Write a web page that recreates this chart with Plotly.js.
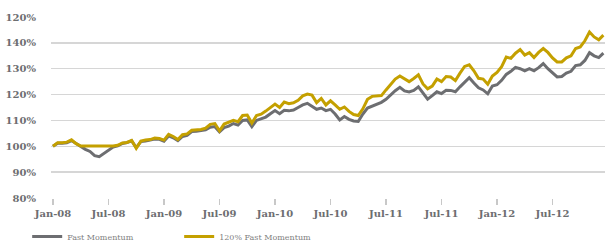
<!DOCTYPE html>
<html>
<head>
<meta charset="utf-8">
<script src="https://cdn.plot.ly/plotly-3.0.1.min.js"></script>
<style>html,body{margin:0;padding:0;background:#fff;}#chart{width:605px;height:251px;}</style>
</head>
<body>
<div id="chart"></div>
<script>
// Semi-monthly observations, Jan-08 to Dec-12 (index 0..119)
const fastMomentum = [
100.0,101.2,101.2,101.4,102.2,101.0,100.0,98.8,98.0,96.4,
96.0,97.3,98.5,99.7,100.2,101.1,101.4,102.1,99.5,101.8,
102.0,102.3,102.8,102.7,102.0,104.0,103.3,102.2,103.8,104.2,
105.7,105.8,106.0,106.4,107.4,107.6,105.6,107.2,107.8,108.8,
108.2,110.0,110.2,107.6,110.0,110.8,111.3,112.6,113.8,112.6,
113.9,113.7,114.0,115.0,116.0,116.6,115.6,114.3,114.8,113.8,
114.3,112.5,110.2,111.5,110.4,109.8,109.6,112.5,114.8,115.6,
116.1,117.0,118.2,120.0,121.5,122.8,121.4,121.0,121.6,123.0,
120.6,118.2,119.6,121.1,120.4,121.7,121.6,121.1,123.0,124.8,
126.5,124.5,122.6,121.8,120.3,123.3,123.8,125.5,127.8,129.0,
130.5,130.0,129.2,130.0,129.2,130.4,132.0,130.0,128.3,126.8,
127.0,128.3,129.0,131.2,131.5,133.2,136.2,135.0,134.3,136.0
];
const fastMomentum120 = [
100.0,101.4,101.4,101.6,102.5,101.0,100.1,100.1,100.1,100.1,
100.1,100.1,100.1,100.1,100.4,101.3,101.5,102.3,99.2,102.0,
102.4,102.6,103.2,103.0,102.4,104.6,103.8,102.6,104.5,104.8,
106.2,106.3,106.5,107.0,108.5,108.8,106.0,108.6,109.2,110.0,
109.5,111.9,112.1,109.0,111.9,112.4,113.6,114.9,116.3,115.0,
117.1,116.5,116.8,117.8,119.5,120.2,119.8,116.9,118.5,116.0,
117.6,116.0,114.3,115.2,113.5,112.3,111.9,114.5,118.2,119.3,
119.4,119.6,121.8,124.0,126.0,127.2,126.1,125.0,126.2,127.6,
124.1,122.2,123.3,126.0,125.0,127.0,126.8,125.4,128.3,130.9,
131.5,129.2,126.3,126.0,124.0,127.2,128.6,130.8,134.5,134.0,
136.0,137.4,135.3,136.2,134.3,136.3,137.8,136.3,134.2,132.6,
132.6,134.2,135.0,137.8,138.4,140.8,144.2,142.3,141.2,143.0
];
const xTickVals = [0,12,24,36,48,60,72,84,96,108];
const xTickText = ['Jan-08','Jul-08','Jan-09','Jul-09','Jan-10','Jul-10','Jul-11','Jul-11','Jan-12','Jul-12'];
const yTickVals = [80,90,100,110,120,130,140,150];
const yTickText = ['80%','90%','100%','110%','120%','130%','140%','120%'];
const seriesNames = ['Fast Momentum','120% Fast Momentum'];

const xIdx = fastMomentum.map((_, i) => i);
const gray = '#6d6e71';
const gold = '#c4a000';

const traces = [
  {x: xIdx, y: fastMomentum, name: seriesNames[0], type: 'scatter', mode: 'lines',
   line: {color: gray, width: 3}},
  {x: xIdx, y: fastMomentum120, name: seriesNames[1], type: 'scatter', mode: 'lines',
   line: {color: gold, width: 3}}
];

const layout = {
  width: 605, height: 251,
  margin: {l: 51, r: 0, t: 17, b: 45, pad: 0},
  paper_bgcolor: '#fff', plot_bgcolor: '#fff',
  showlegend: true,
  legend: {orientation: 'h', x: -0.043, xanchor: 'left', y: -0.215, yanchor: 'middle',
           font: {family: 'DejaVu Serif', size: 8, color: '#808080'},
           entrywidth: 107, entrywidthmode: 'pixels', tracegroupgap: 0,
           bgcolor: 'rgba(0,0,0,0)'},
  xaxis: {range: [-0.43, 119.35], tickvals: xTickVals, ticktext: xTickText,
          ticks: 'outside', ticklen: 6, tickcolor: '#c8c8c8', tickwidth: 1.5,
          showgrid: false, zeroline: false, showline: false,
          tickfont: {family: 'DejaVu Serif', size: 10, color: gray, weight: 'bold'}},
  yaxis: {range: [80, 150], tickvals: yTickVals, ticktext: yTickText,
          ticks: 'outside', ticklen: 12, tickcolor: 'rgba(0,0,0,0)',
          showgrid: true, gridcolor: '#d6d6d6', gridwidth: 1.5,
          zeroline: false, showline: false,
          tickfont: {family: 'DejaVu Serif', size: 10, color: gray, weight: 'bold'}}
};

Plotly.newPlot('chart', traces, layout, {displayModeBar: false, staticPlot: true});
</script>
</body>
</html>
